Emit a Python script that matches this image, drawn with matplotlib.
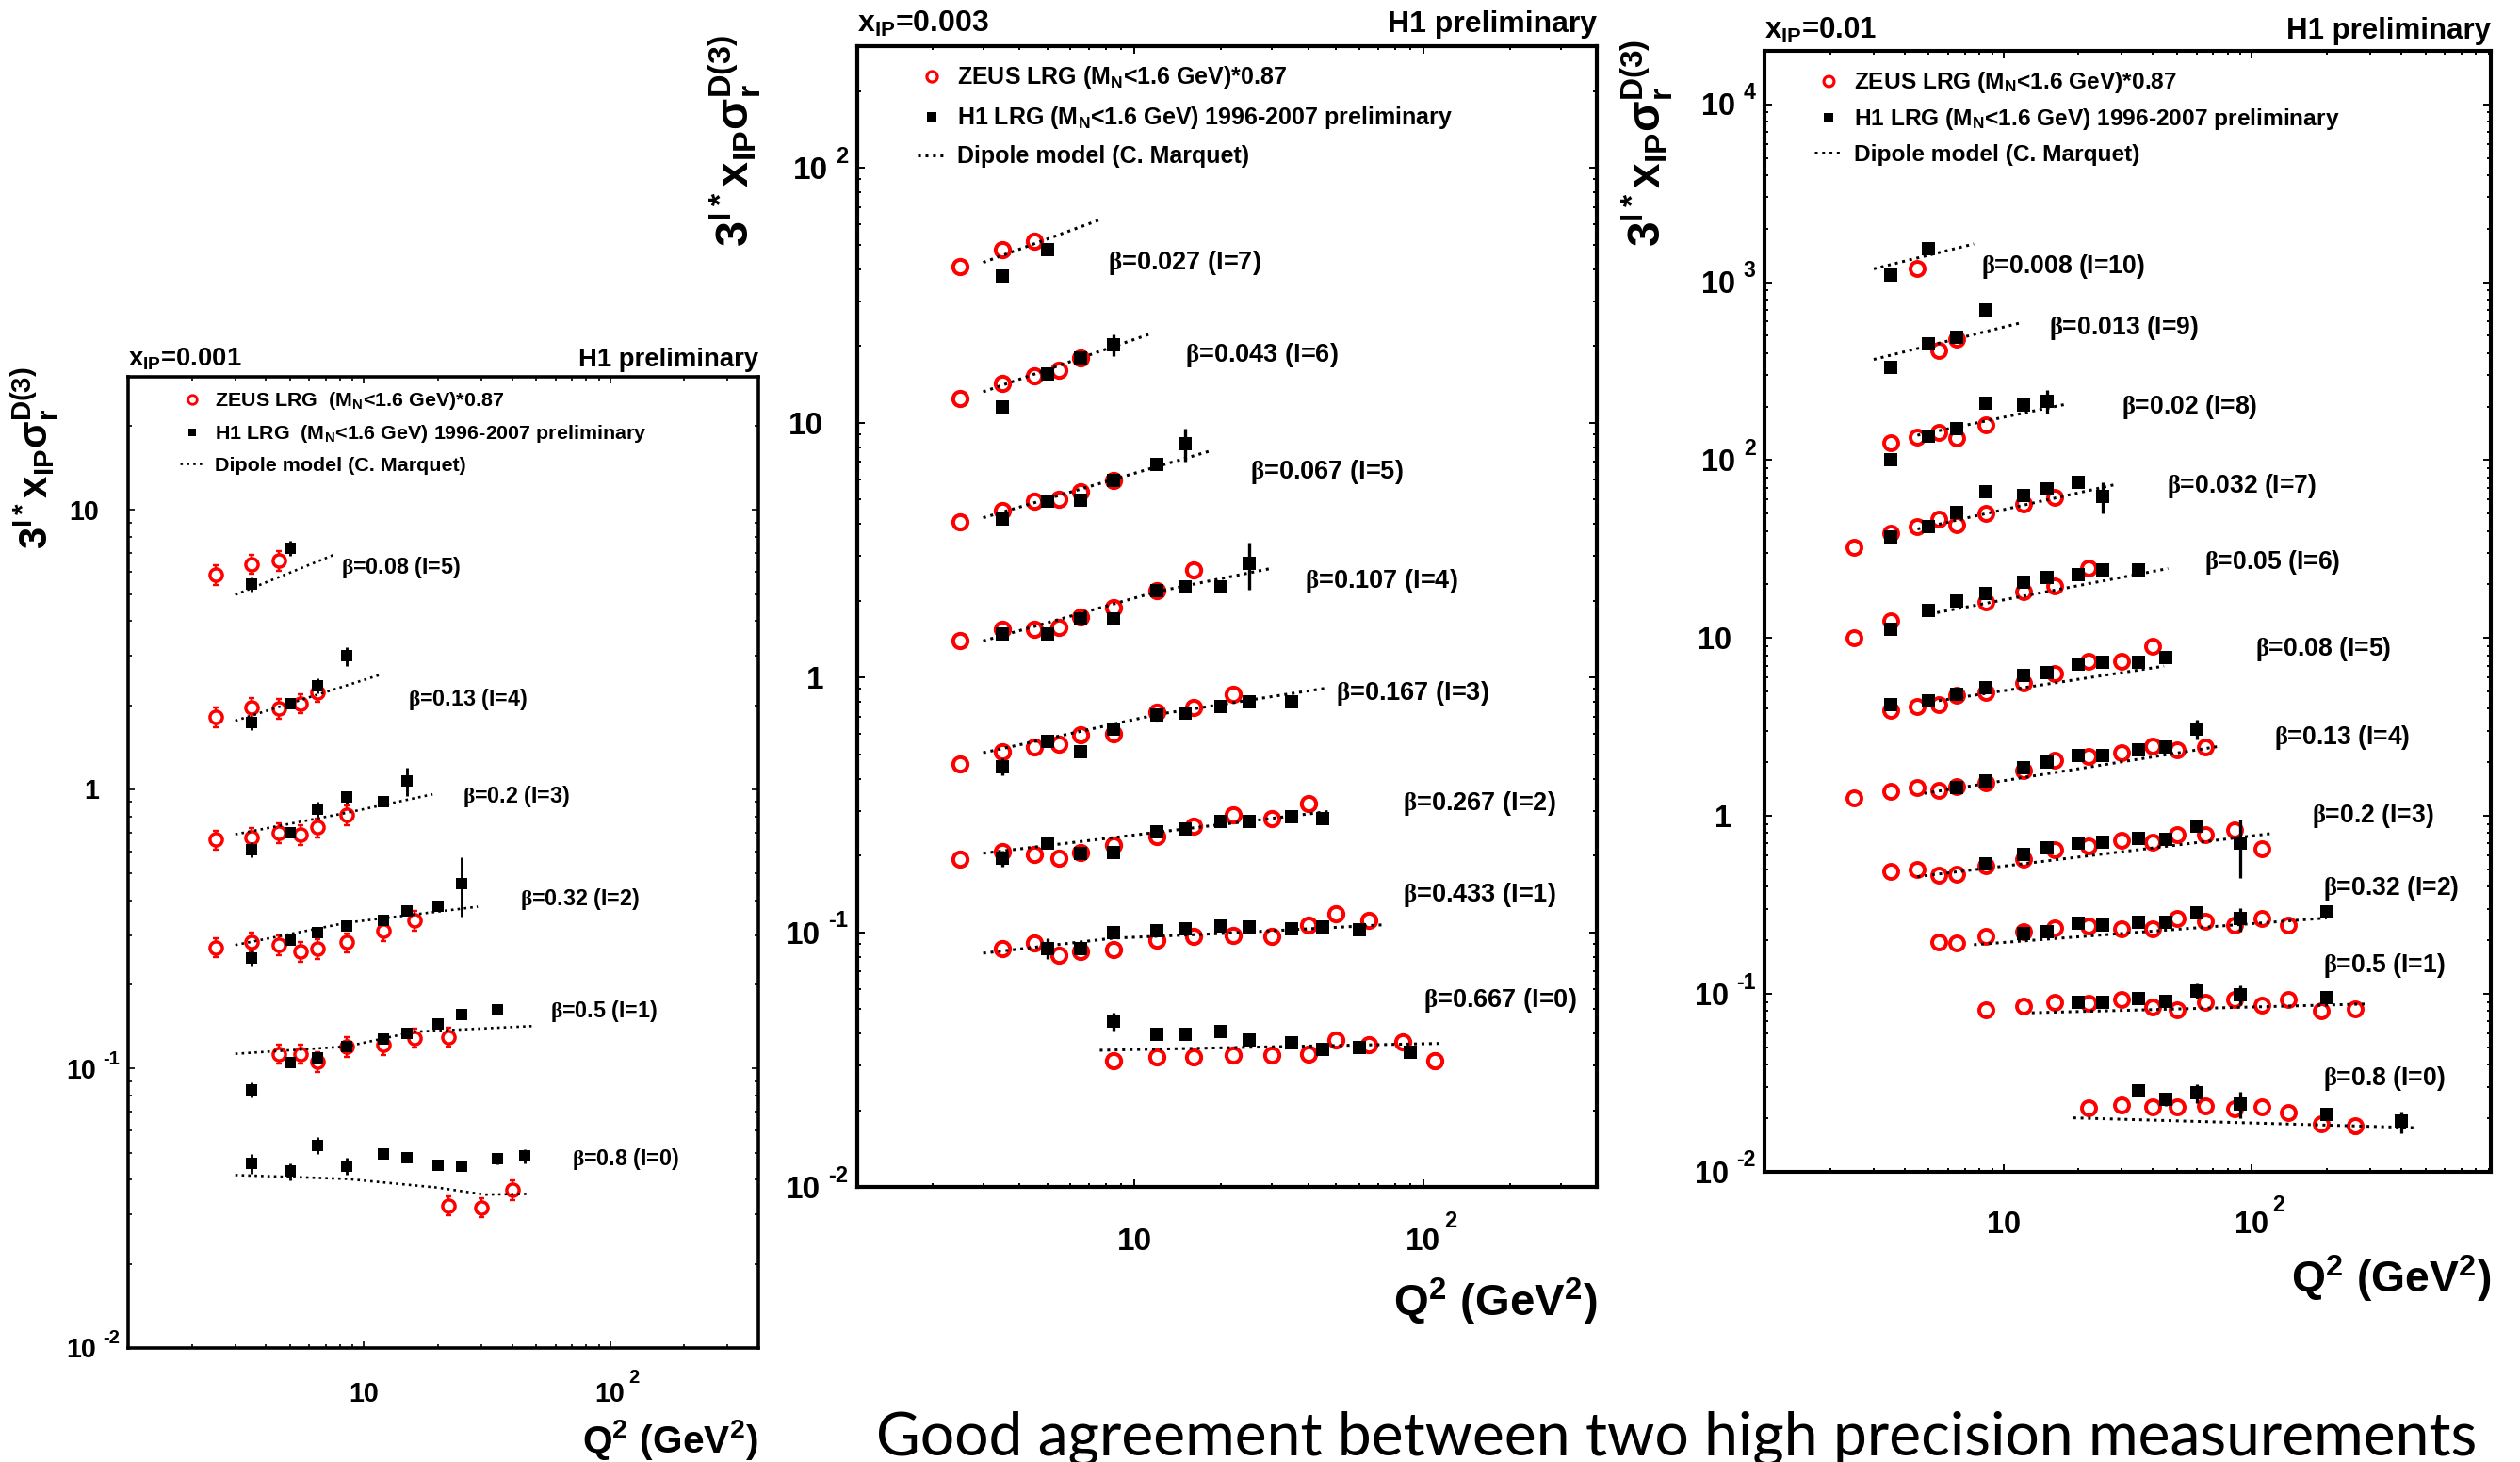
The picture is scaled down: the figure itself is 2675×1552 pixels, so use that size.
import math
import matplotlib
matplotlib.use("Agg")
import matplotlib.pyplot as plt
from matplotlib.lines import Line2D
from matplotlib.ticker import LogLocator, NullFormatter

plt.rcParams["font.family"] = "Liberation Sans"
plt.rcParams["font.weight"] = "bold"
plt.rcParams["axes.labelweight"] = "bold"
plt.rcParams["mathtext.fontset"] = "custom"
plt.rcParams["mathtext.rm"] = "Liberation Sans:bold"
plt.rcParams["mathtext.it"] = "Liberation Sans:bold"
plt.rcParams["mathtext.bf"] = "Liberation Sans:bold"
plt.rcParams["mathtext.sf"] = "Liberation Sans:bold"
plt.rcParams["mathtext.cal"] = "Liberation Serif"
plt.rcParams["mathtext.default"] = "rm"

# ---------------- x_IP = 0.001 ----------------
P1_LABELS = ["β=0.08 (I=5)", "β=0.13 (I=4)", "β=0.2 (I=3)",
             "β=0.32 (I=2)", "β=0.5 (I=1)", "β=0.8 (I=0)"]
P1_ZEUS_Q = [[2.5, 3.5, 4.5],
             [2.5, 3.5, 4.5, 5.5, 6.5],
             [2.5, 3.5, 4.5, 5.5, 6.5, 8.5],
             [2.5, 3.5, 4.5, 5.5, 6.5, 8.5, 12, 16],
             [4.5, 5.5, 6.5, 8.5, 12, 16, 22],
             [22, 30, 40]]
P1_ZEUS_V = [[5.87, 6.41, 6.59],
             [1.82, 1.96, 1.95, 2.03, 2.23],
             [0.66, 0.674, 0.70, 0.687, 0.73, 0.81],
             [0.272, 0.285, 0.277, 0.262, 0.269, 0.283, 0.312, 0.339],
             [0.113, 0.113, 0.106, 0.120, 0.122, 0.129, 0.130],
             [0.0324, 0.0319, 0.0369]]
P1_ZEUS_E = [[0.08, 0.08, 0.08],
             [0.08, 0.08, 0.08, 0.08, 0.08],
             [0.08, 0.08, 0.08, 0.08, 0.08, 0.08],
             [0.08, 0.08, 0.08, 0.08, 0.08, 0.08, 0.08, 0.08],
             [0.08, 0.08, 0.08, 0.08, 0.08, 0.08, 0.08],
             [0.08, 0.08, 0.08]]
P1_H1_Q = [[3.5, 5.0],
           [3.5, 5.0, 6.5, 8.5],
           [3.5, 5.0, 6.5, 8.5, 12, 15],
           [3.5, 5.0, 6.5, 8.5, 12, 15, 20, 25],
           [3.5, 5.0, 6.5, 8.5, 12, 15, 20, 25, 35],
           [3.5, 5.0, 6.5, 8.5, 12, 15, 20, 25, 35, 45]]
P1_H1_V = [[5.43, 7.3],
           [1.73, 2.03, 2.35, 3.0],
           [0.61, 0.70, 0.85, 0.94, 0.90, 1.07],
           [0.249, 0.288, 0.308, 0.325, 0.339, 0.367, 0.383, 0.461],
           [0.084, 0.105, 0.109, 0.120, 0.128, 0.134, 0.145, 0.156, 0.162],
           [0.0458, 0.0429, 0.0532, 0.0448, 0.0496, 0.0478, 0.0452, 0.0448, 0.0475, 0.0486]]
P1_H1_E = [[0.06, 0.06],
           [0.06, 0.04, 0.06, 0.08],
           [0.06, 0.04, 0.06, 0.05, 0.03, 0.117],
           [0.06, 0.03, 0.04, 0.04, 0.03, 0.03, 0.03, 0.24],
           [0.06, 0.03, 0.03, 0.03, 0.02, 0.02, 0.02, 0.02, 0.02],
           [0.08, 0.07, 0.07, 0.07, 0.03, 0.03, 0.03, 0.03, 0.04, 0.06]]
P1_DIP_Q = [[3.0, 7.6], [3.0, 11.6], [3.0, 8.5, 19], [3.0, 8.5, 29],
            [3.0, 8.5, 16, 48], [3.0, 8.5, 20, 31, 46]]
P1_DIP_V = [[4.97, 6.93], [1.76, 2.57], [0.69, 0.824, 0.96], [0.277, 0.333, 0.38],
            [0.113, 0.120, 0.1355, 0.142], [0.0416, 0.0403, 0.0375, 0.0354, 0.0356]]
P1_YTICKS = [0.01, 0.1, 1, 10]

# ---------------- x_IP = 0.003 ----------------
P2_LABELS = ["β=0.027 (I=7)", "β=0.043 (I=6)", "β=0.067 (I=5)", "β=0.107 (I=4)",
             "β=0.167 (I=3)", "β=0.267 (I=2)", "β=0.433 (I=1)", "β=0.667 (I=0)"]
P2_ZEUS_Q = [[2.5, 3.5, 4.5],
             [2.5, 3.5, 4.5, 5.5, 6.5],
             [2.5, 3.5, 4.5, 5.5, 6.5, 8.5],
             [2.5, 3.5, 4.5, 5.5, 6.5, 8.5, 12, 16],
             [2.5, 3.5, 4.5, 5.5, 6.5, 8.5, 12, 16, 22],
             [2.5, 3.5, 4.5, 5.5, 6.5, 8.5, 12, 16, 22, 30, 40],
             [3.5, 4.5, 5.5, 6.5, 8.5, 12, 16, 22, 30, 40, 50, 65],
             [8.5, 12, 16, 22, 30, 40, 50, 65, 85, 110]]
P2_ZEUS_V = [[40.8, 47.8, 51.5],
             [12.4, 14.2, 15.2, 16.0, 17.9],
             [4.08, 4.50, 4.91, 4.99, 5.35, 5.94],
             [1.40, 1.54, 1.54, 1.57, 1.73, 1.88, 2.19, 2.64],
             [0.456, 0.510, 0.531, 0.545, 0.597, 0.601, 0.733, 0.764, 0.855],
             [0.193, 0.208, 0.202, 0.195, 0.205, 0.219, 0.238, 0.261, 0.289, 0.280, 0.321],
             [0.0865, 0.091, 0.081, 0.0838, 0.0855, 0.0929, 0.096, 0.0968, 0.096, 0.107, 0.118, 0.111],
             [0.0313, 0.0324, 0.0324, 0.033, 0.033, 0.0333, 0.0377, 0.0362, 0.0371, 0.0314]]
P2_ZEUS_E = [[0.03, 0.03, 0.03],
             [0.03, 0.03, 0.03, 0.03, 0.03],
             [0.03, 0.03, 0.03, 0.03, 0.03, 0.03],
             [0.03, 0.03, 0.03, 0.03, 0.03, 0.03, 0.03, 0.03],
             [0.03, 0.03, 0.03, 0.03, 0.03, 0.03, 0.03, 0.03, 0.03],
             [0.03, 0.03, 0.03, 0.03, 0.03, 0.03, 0.03, 0.03, 0.03, 0.03, 0.03],
             [0.03, 0.03, 0.03, 0.03, 0.03, 0.03, 0.03, 0.03, 0.03, 0.03, 0.03, 0.03],
             [0.03, 0.03, 0.03, 0.03, 0.03, 0.03, 0.03, 0.03, 0.03, 0.07]]
P2_H1_Q = [[3.5, 5.0],
           [3.5, 5.0, 6.5, 8.5],
           [3.5, 5.0, 6.5, 8.5, 12, 15],
           [3.5, 5.0, 6.5, 8.5, 12, 15, 20, 25],
           [3.5, 5.0, 6.5, 8.5, 12, 15, 20, 25, 35],
           [3.5, 5.0, 6.5, 8.5, 12, 15, 20, 25, 35, 45],
           [5.0, 6.5, 8.5, 12, 15, 20, 25, 35, 45, 60],
           [8.5, 12, 15, 20, 25, 35, 45, 60, 90]]
P2_H1_V = [[37.7, 47.8],
           [11.5, 15.5, 17.9, 20.2],
           [4.20, 4.91, 4.94, 5.94, 6.83, 8.26],
           [1.48, 1.48, 1.69, 1.70, 2.19, 2.27, 2.27, 2.80],
           [0.447, 0.561, 0.510, 0.627, 0.710, 0.725, 0.770, 0.803, 0.803],
           [0.195, 0.223, 0.204, 0.205, 0.247, 0.254, 0.272, 0.272, 0.283, 0.278],
           [0.0865, 0.0865, 0.100, 0.101, 0.103, 0.106, 0.105, 0.103, 0.105, 0.102],
           [0.0447, 0.0398, 0.0398, 0.0406, 0.0377, 0.0369, 0.0347, 0.0354, 0.0337]]
P2_H1_E = [[0.03, 0.05],
           [0.03, 0.03, 0.04, 0.10],
           [0.03, 0.03, 0.04, 0.04, 0.03, 0.148],
           [0.05, 0.03, 0.03, 0.03, 0.03, 0.03, 0.03, 0.21],
           [0.08, 0.03, 0.03, 0.03, 0.03, 0.03, 0.03, 0.03, 0.03],
           [0.07, 0.03, 0.04, 0.03, 0.03, 0.03, 0.03, 0.03, 0.03, 0.03],
           [0.09, 0.03, 0.03, 0.03, 0.03, 0.03, 0.03, 0.03, 0.03, 0.03],
           [0.08, 0.05, 0.03, 0.03, 0.03, 0.03, 0.03, 0.03, 0.04]]
P2_DIP_Q = [[3.0, 7.6], [3.0, 11.5], [3.0, 18.7], [3.0, 12, 29.4],
            [3.0, 12, 46.9], [3.0, 47.5], [3.0, 8.5, 20, 74], [7.6, 115]]
P2_DIP_V = [[42.5, 62.5], [13.2, 22.4], [4.23, 7.79], [1.39, 2.17, 2.67],
            [0.506, 0.715, 0.910], [0.204, 0.298], [0.0827, 0.0948, 0.0988, 0.107],
            [0.0344, 0.0366]]
P2_YTICKS = [0.01, 0.1, 1, 10, 100]

# ---------------- x_IP = 0.01 ----------------
P3_LABELS = ["β=0.008 (I=10)", "β=0.013 (I=9)", "β=0.02 (I=8)", "β=0.032 (I=7)",
             "β=0.05 (I=6)", "β=0.08 (I=5)", "β=0.13 (I=4)", "β=0.2 (I=3)",
             "β=0.32 (I=2)", "β=0.5 (I=1)", "β=0.8 (I=0)"]
P3_ZEUS_Q = [[4.5],
             [5.5, 6.5],
             [3.5, 4.5, 5.5, 6.5, 8.5],
             [2.5, 3.5, 4.5, 5.5, 6.5, 8.5, 12, 16],
             [2.5, 3.5, 8.5, 12, 16, 22],
             [3.5, 4.5, 5.5, 6.5, 8.5, 12, 16, 22, 30, 40],
             [2.5, 3.5, 4.5, 5.5, 6.5, 8.5, 12, 16, 22, 30, 40, 50, 65],
             [3.5, 4.5, 5.5, 6.5, 8.5, 12, 16, 22, 30, 40, 50, 65, 85, 110],
             [5.5, 6.5, 8.5, 12, 16, 22, 30, 40, 50, 65, 85, 110, 140],
             [8.5, 12, 16, 22, 30, 40, 50, 65, 85, 110, 140, 190, 260],
             [22, 30, 40, 50, 65, 85, 110, 140, 190, 260]]
P3_ZEUS_V = [[1189],
             [414, 481],
             [125, 135, 143, 133, 158],
             [32.5, 38.7, 42.1, 46.5, 43.5, 50, 56.6, 61.9],
             [10.1, 12.5, 15.9, 18.2, 19.7, 24.6],
             [3.93, 4.13, 4.21, 4.75, 4.97, 5.62, 6.32, 7.43, 7.43, 9.04],
             [1.26, 1.37, 1.45, 1.39, 1.47, 1.53, 1.80, 2.05, 2.17, 2.27, 2.47, 2.36, 2.43],
             [0.488, 0.501, 0.466, 0.469, 0.525, 0.570, 0.645, 0.682, 0.734, 0.710, 0.785, 0.785, 0.830, 0.656],
             [0.196, 0.194, 0.211, 0.223, 0.236, 0.240, 0.233, 0.233, 0.264, 0.256, 0.243, 0.264, 0.243],
             [0.0815, 0.0853, 0.0902, 0.0887, 0.0927, 0.0848, 0.0815, 0.0895, 0.0927, 0.0861, 0.0927, 0.0802, 0.0824],
             [0.0229, 0.0238, 0.0232, 0.0232, 0.0234, 0.0226, 0.0232, 0.0215, 0.0185, 0.0182]]
P3_ZEUS_E = [[0.03],
             [0.03, 0.03],
             [0.03, 0.03, 0.03, 0.03, 0.03],
             [0.03, 0.03, 0.03, 0.03, 0.03, 0.03, 0.03, 0.03],
             [0.03, 0.03, 0.03, 0.03, 0.03, 0.03],
             [0.03, 0.03, 0.03, 0.03, 0.03, 0.03, 0.03, 0.03, 0.03, 0.03],
             [0.03, 0.03, 0.03, 0.03, 0.03, 0.03, 0.03, 0.03, 0.03, 0.03, 0.03, 0.03, 0.03],
             [0.03, 0.03, 0.03, 0.03, 0.03, 0.03, 0.03, 0.03, 0.03, 0.03, 0.03, 0.03, 0.03, 0.03],
             [0.03, 0.03, 0.03, 0.03, 0.03, 0.03, 0.03, 0.03, 0.03, 0.03, 0.03, 0.03, 0.03],
             [0.03, 0.03, 0.03, 0.03, 0.03, 0.03, 0.03, 0.03, 0.03, 0.03, 0.03, 0.04, 0.08],
             [0.03, 0.03, 0.03, 0.03, 0.03, 0.03, 0.03, 0.03, 0.08, 0.09]]
P3_H1_Q = [[3.5, 5.0],
           [3.5, 5.0, 6.5, 8.5],
           [3.5, 5.0, 6.5, 8.5, 12, 15],
           [3.5, 5.0, 6.5, 8.5, 12, 15, 20, 25],
           [3.5, 5.0, 6.5, 8.5, 12, 15, 20, 25, 35],
           [3.5, 5.0, 6.5, 8.5, 12, 15, 20, 25, 35, 45],
           [6.5, 8.5, 12, 15, 20, 25, 35, 45, 60],
           [8.5, 12, 15, 20, 25, 35, 45, 60, 90],
           [12, 15, 20, 25, 35, 45, 60, 90, 200],
           [20, 25, 35, 45, 60, 90, 200],
           [35, 45, 60, 90, 200, 400]]
P3_H1_V = [[1094, 1538],
           [331, 449, 488, 697],
           [101, 136, 151, 208, 205, 215],
           [37.2, 42.5, 50.5, 66.3, 63.1, 69, 75, 62.5],
           [11.2, 14.3, 16.1, 17.8, 20.5, 21.8, 22.7, 24.1, 24.1],
           [4.25, 4.45, 4.83, 5.26, 6.15, 6.40, 7.14, 7.35, 7.27, 7.78],
           [1.45, 1.58, 1.87, 2.00, 2.18, 2.18, 2.36, 2.44, 3.09],
           [0.537, 0.611, 0.664, 0.702, 0.710, 0.750, 0.742, 0.877, 0.702],
           [0.219, 0.225, 0.249, 0.243, 0.252, 0.252, 0.284, 0.264, 0.290],
           [0.0895, 0.0895, 0.0937, 0.0912, 0.104, 0.099, 0.0948],
           [0.0286, 0.0256, 0.0277, 0.0241, 0.0209, 0.0192]]
P3_H1_E = [[0.04, 0.04],
           [0.04, 0.04, 0.04, 0.06],
           [0.04, 0.03, 0.03, 0.04, 0.04, 0.15],
           [0.06, 0.03, 0.03, 0.04, 0.03, 0.04, 0.04, 0.20],
           [0.05, 0.03, 0.03, 0.03, 0.03, 0.03, 0.03, 0.03, 0.03],
           [0.07, 0.03, 0.03, 0.03, 0.03, 0.03, 0.03, 0.03, 0.03, 0.04],
           [0.04, 0.04, 0.04, 0.03, 0.03, 0.03, 0.03, 0.03, 0.13],
           [0.04, 0.04, 0.04, 0.03, 0.03, 0.03, 0.03, 0.07, 0.36],
           [0.06, 0.04, 0.04, 0.03, 0.03, 0.03, 0.07, 0.15, 0.05],
           [0.04, 0.04, 0.04, 0.04, 0.10, 0.126, 0.05],
           [0.04, 0.08, 0.12, 0.17, 0.06, 0.14]]
P3_DIP_Q = [[3.0, 7.6], [3.0, 11.9], [4.5, 18.1], [4.5, 28.7], [5.4, 46], [4.8, 44.3],
            [4.8, 75], [4.5, 121], [7.6, 200], [13, 288], [19.1, 457]]
P3_DIP_V = [[1189, 1641], [368, 594], [138, 207], [41.0, 73.3], [13.9, 24.6], [4.32, 6.95],
            [1.34, 2.47], [0.456, 0.798], [0.189, 0.267], [0.0783, 0.0877], [0.0201, 0.0177]]
P3_YTICKS = [0.01, 0.1, 1, 10, 100, 1000, 10000]

X_TICKS = [10, 100]
CAPTION = "Good agreement between two high precision measurements"

PANELS = [
    dict(labels=P1_LABELS, zq=P1_ZEUS_Q, zv=P1_ZEUS_V, ze=P1_ZEUS_E, hq=P1_H1_Q, hv=P1_H1_V,
         he=P1_H1_E, dq=P1_DIP_Q, dv=P1_DIP_V, yticks=P1_YTICKS, xip="0.001"),
    dict(labels=P2_LABELS, zq=P2_ZEUS_Q, zv=P2_ZEUS_V, ze=P2_ZEUS_E, hq=P2_H1_Q, hv=P2_H1_V,
         he=P2_H1_E, dq=P2_DIP_Q, dv=P2_DIP_V, yticks=P2_YTICKS, xip="0.003"),
    dict(labels=P3_LABELS, zq=P3_ZEUS_Q, zv=P3_ZEUS_V, ze=P3_ZEUS_E, hq=P3_H1_Q, hv=P3_H1_V,
         he=P3_H1_E, dq=P3_DIP_Q, dv=P3_DIP_V, yticks=P3_YTICKS, xip="0.01"),
]

# layout of each panel (figure fractions, font scale, text positions)
LAYOUT = [
    dict(rect=[0.0508, 0.078, 0.2501, 0.6643], xlim=(1.1, 400), ylim=(0.01, 30), s=0.86,
         head_y=0.0107, xlab_y=-0.072, ylab_x=-0.108, leg_anchor=(0.083, 0.986), leg_sp=0.56,
         leg_text=["ZEUS LRG  (M$_N$<1.6 GeV)*0.87",
                   "H1 LRG  (M$_N$<1.6 GeV) 1996-2007 preliminary",
                   "Dipole model (C. Marquet)"],
         lab_pos=[(8.1, 6.2), (15.1, 2.1), (25.1, 0.946), (43, 0.406), (57, 0.161), (70, 0.0475)]),
    dict(rect=[0.3402, 0.1881, 0.2935, 0.7803], xlim=(1.1, 400), ylim=(0.01, 300), s=1.0,
         head_y=0.0128, xlab_y=-0.0785, ylab_x=-0.127, leg_anchor=(0.081, 0.984), leg_sp=0.6,
         leg_text=["ZEUS LRG (M$_N$<1.6 GeV)*0.87",
                   "H1 LRG (M$_N$<1.6 GeV) 1996-2007 preliminary",
                   "Dipole model (C. Marquet)"],
         lab_pos=[(8.1, 42.5), (15, 18.4), (25.2, 6.41), (39, 2.39), (50, 0.865),
                  (85, 0.321), (85, 0.140), (100, 0.0542)]),
    dict(rect=[0.7002, 0.1985, 0.2882, 0.7668], xlim=(1.09, 917), ylim=(0.01, 2e4), s=0.98,
         head_y=0.011, xlab_y=-0.072, ylab_x=-0.123, leg_anchor=(0.069, 0.983), leg_sp=0.5,
         leg_text=["ZEUS LRG (M$_N$<1.6 GeV)*0.87",
                   "H1 LRG (M$_N$<1.6 GeV) 1996-2007 preliminary",
                   "Dipole model (C. Marquet)"],
         lab_pos=[(8.1, 1219), (15.3, 552), (30, 200), (45.5, 71.8), (64.7, 26.7), (103, 8.69),
                  (123, 2.76), (174, 1.0), (194, 0.39), (194, 0.145), (194, 0.0333)]),
]

DOTS = (0, (1, 1.6))


def log_parts(v):
    e = int(round(math.log10(v)))
    if e == 0:
        return "1", None
    if e == 1:
        return "10", None
    return "10", str(e)


# ROOT-like tick labels: "10" with a separate raised exponent
def tick_labels(ax, yticks, s):
    fs = 24 * s
    fse = 17 * s
    dh = 0.716 * fs
    ytr = ax.get_yaxis_transform()
    xtr = ax.get_xaxis_transform()
    for v in yticks:
        base, ex = log_parts(v)
        if ex is None:
            ax.annotate(base, xy=(0, v), xycoords=ytr, xytext=(-26 * s, -dh / 2),
                        textcoords="offset points", ha="right", va="baseline", fontsize=fs)
        else:
            et = ax.annotate(ex, xy=(0, v), xycoords=ytr, xytext=(-7 * s, 4 * s),
                             textcoords="offset points", ha="right", va="baseline", fontsize=fse)
            ax.annotate(base, xy=(0, v), xycoords=(et, ytr), xytext=(-6 * s, -dh / 2),
                        textcoords="offset points", ha="right", va="baseline", fontsize=fs)
    for v in X_TICKS:
        base, ex = log_parts(v)
        bt = ax.annotate(base, xy=(v, 0), xycoords=xtr, xytext=(0, -48 * s),
                         textcoords="offset points", ha="center", va="baseline", fontsize=fs)
        if ex is not None:
            ax.annotate(ex, xy=(1, 0), xycoords=(bt, xtr), xytext=(3 * s, -48 * s + dh),
                        textcoords="offset points", ha="left", va="baseline", fontsize=fse)


def draw_panel(fig, d, lay):
    s = lay["s"]
    ax = fig.add_axes(lay["rect"])
    ax.set_xscale("log")
    ax.set_yscale("log")
    ax.set_xlim(*lay["xlim"])
    ax.set_ylim(*lay["ylim"])

    for i, lab in enumerate(d["labels"]):
        zerr = [v * e for v, e in zip(d["zv"][i], d["ze"][i])]
        ax.errorbar(d["zq"][i], d["zv"][i], yerr=zerr, fmt="none", ecolor="red",
                    elinewidth=2.0 * s, capsize=2.5 * s, capthick=2.0 * s, zorder=2)
        ax.plot(d["zq"][i], d["zv"][i], ls="none", marker="o", ms=11 * s, mew=2.9 * s,
                mec="red", mfc="white", zorder=3)
        ax.plot(d["dq"][i], d["dv"][i], ls=DOTS, color="black", lw=2.2 * s, zorder=4)
        herr = [v * e for v, e in zip(d["hv"][i], d["he"][i])]
        ax.errorbar(d["hq"][i], d["hv"][i], yerr=herr, fmt="s", color="black", ms=10 * s,
                    mew=0, elinewidth=2.4 * s, capsize=4.7 * s, capthick=2.4 * s, zorder=5)
        # the beta sign is drawn in a thin serif face, as in the original
        lx, ly = lay["lab_pos"][i]
        ax.text(lx, ly, lab.replace("β", r"$\mathcal{β}$"), fontsize=19.5 * s,
                ha="left", va="center")

    # ticks on all sides, pointing in
    ax.xaxis.set_major_locator(LogLocator(base=10, numticks=20))
    ax.yaxis.set_major_locator(LogLocator(base=10, numticks=20))
    ax.xaxis.set_minor_locator(LogLocator(base=10, subs=tuple(range(2, 10)), numticks=60))
    ax.yaxis.set_minor_locator(LogLocator(base=10, subs=tuple(range(2, 10)), numticks=60))
    ax.xaxis.set_minor_formatter(NullFormatter())
    ax.yaxis.set_minor_formatter(NullFormatter())
    ax.tick_params(which="both", direction="in", top=True, right=True,
                   labelbottom=False, labelleft=False, width=1.4 * s)
    ax.tick_params(which="major", length=6 * s)
    ax.tick_params(which="minor", length=3.2 * s)
    for sp in ax.spines.values():
        sp.set_linewidth(3 * s)
    tick_labels(ax, d["yticks"], s)

    ax.text(0, 1 + lay["head_y"], "x$_{IP}$=" + d["xip"], transform=ax.transAxes,
            fontsize=23 * s, ha="left", va="baseline")
    ax.text(1, 1 + lay["head_y"], "H1 preliminary", transform=ax.transAxes,
            fontsize=23 * s, ha="right", va="baseline")

    ax.set_xlabel(r"$Q^{2}\ (GeV^{2})$", fontsize=34 * s, loc="right")
    ax.xaxis.set_label_coords(1.0, lay["xlab_y"])
    ax.set_ylabel("$3^{I*}x_{IP}σ_{r}^{D(3)}$", fontsize=35 * s, loc="top")
    ax.yaxis.set_label_coords(lay["ylab_x"], 1.01)

    hz = Line2D([], [], ls="none", marker="o", ms=8 * s, mew=2.3 * s, mec="red", mfc="white")
    hh = Line2D([], [], ls="none", marker="s", ms=7.5 * s, mew=0, color="black")
    hd = Line2D([], [], ls=DOTS, lw=2.2 * s, color="black")
    ax.legend([hz, hh, hd], lay["leg_text"], loc="upper left", bbox_to_anchor=lay["leg_anchor"],
              frameon=False, fontsize=18 * s, handlelength=1.2, handletextpad=0.5,
              labelspacing=lay["leg_sp"], borderpad=0, borderaxespad=0)
    return ax


fig = plt.figure(figsize=(26.75, 15.52), dpi=100)
for d, lay in zip(PANELS, LAYOUT):
    draw_panel(fig, d, lay)

cap = fig.text(930 / 2675, 8 / 1552, CAPTION, fontfamily="Lato", fontweight="normal",
               fontsize=46, ha="left", va="baseline")
fig.canvas.draw()
w = cap.get_window_extent().width
cap.set_fontsize(46 * 1697 / w)

fig.savefig("out.png", dpi=100, facecolor="white")
